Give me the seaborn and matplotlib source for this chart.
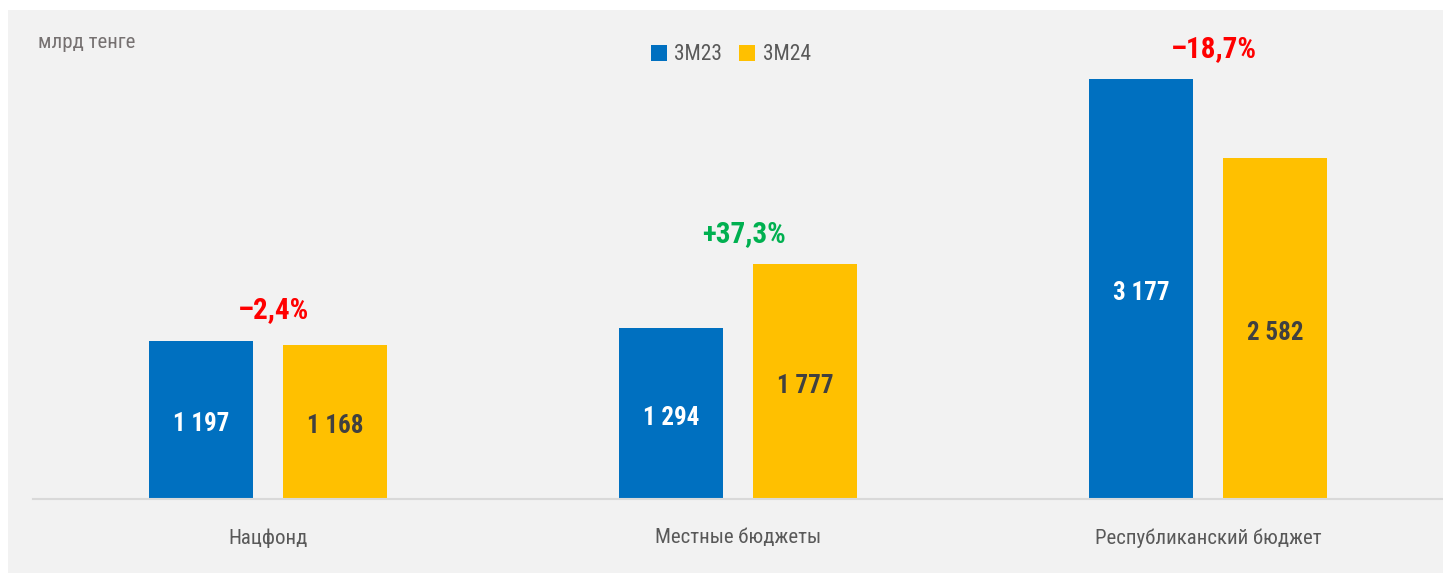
import matplotlib
matplotlib.use("Agg")
import matplotlib.pyplot as plt
from matplotlib import font_manager
from matplotlib.patches import Rectangle, Patch
import seaborn as sns
import pandas as pd

categories = ["Нацфонд", "Местные бюджеты", "Республиканский бюджет"]
series = ["3М23", "3М24"]
values_3m23 = [1197, 1294, 3177]
values_3m24 = [1168, 1777, 2582]
value_labels_3m23 = ["1 197", "1 294", "3 177"]
value_labels_3m24 = ["1 168", "1 777", "2 582"]
change_labels = ["–2,4%", "+37,3%", "–18,7%"]
change_colors = ["#ff0000", "#00b050", "#ff0000"]
unit_label = "млрд тенге"

df = pd.DataFrame({
    "category": categories * 2,
    "series": [series[0]] * 3 + [series[1]] * 3,
    "value": values_3m23 + values_3m24,
})

sns.set_theme(style="white")
available = {f.name for f in font_manager.fontManager.ttflist}
cands = ["Roboto Condensed", "Liberation Sans Narrow", "Open Sans Condensed", "Roboto", "DejaVu Sans"]
fam = [c for c in cands if c in available] + ["DejaVu Sans"]
plt.rcParams["font.family"] = fam

W, H = 1443, 573
fig = plt.figure(figsize=(W / 100, H / 100), dpi=100)
fig.patch.set_facecolor("white")
fig.patches.append(Rectangle((8 / W, 0), 1 - 8 / W, (573 - 10) / H, transform=fig.transFigure,
                             facecolor="#f2f2f2", edgecolor="none", zorder=-10))

ax = fig.add_axes([33 / W, (H - 499) / H, 1 - 33 / W, (499 - 10) / H])
ax.set_facecolor("none")
ax.set_zorder(1)

palette = {series[0]: "#0070c0", series[1]: "#ffc000"}
sns.barplot(data=df, x="category", y="value", hue="series", palette=palette,
            width=0.57, gap=0.22, ax=ax, saturation=1, legend=False, edgecolor="none")

ax.set_xlim(-0.5, 2.5)
ax.set_ylim(0, 3702)
for s in ["left", "right", "top"]:
    ax.spines[s].set_visible(False)
ax.spines["bottom"].set_color("#d9d9d9")
ax.spines["bottom"].set_linewidth(1.5)
ax.set_yticks([])
ax.set_xlabel("")
ax.set_ylabel("")
ax.tick_params(axis="x", length=0, pad=21, labelsize=15, labelcolor="#595959")

conts = ax.containers
ax.bar_label(conts[0], labels=value_labels_3m23, label_type="center", color="white",
             fontsize=18, fontweight="bold", padding=-3)
ax.bar_label(conts[1], labels=value_labels_3m24, label_type="center", color="#404040",
             fontsize=18, fontweight="bold", padding=-3)

for i, (lab, col) in enumerate(zip(change_labels, change_colors)):
    top = max(values_3m23[i], values_3m24[i])
    ax.annotate(lab, (i, top), xytext=(4, 12), textcoords="offset points", ha="center",
                va="bottom", color=col, fontsize=21, fontweight="bold")

fig.text(38 / W, 1 - 42 / H, unit_label, fontsize=15, color="#767171", va="center", ha="left")

handles = [Patch(facecolor=palette[s], edgecolor="none") for s in series]
fig.legend(handles, series, loc="center", bbox_to_anchor=(731 / W, 1 - 55 / H), ncol=2,
           frameon=False, fontsize=15.5, labelcolor="#595959", handlelength=0.72, handleheight=0.72,
           handletextpad=0.35, columnspacing=0.8)

fig.savefig("out.png", dpi=100, facecolor="white")
